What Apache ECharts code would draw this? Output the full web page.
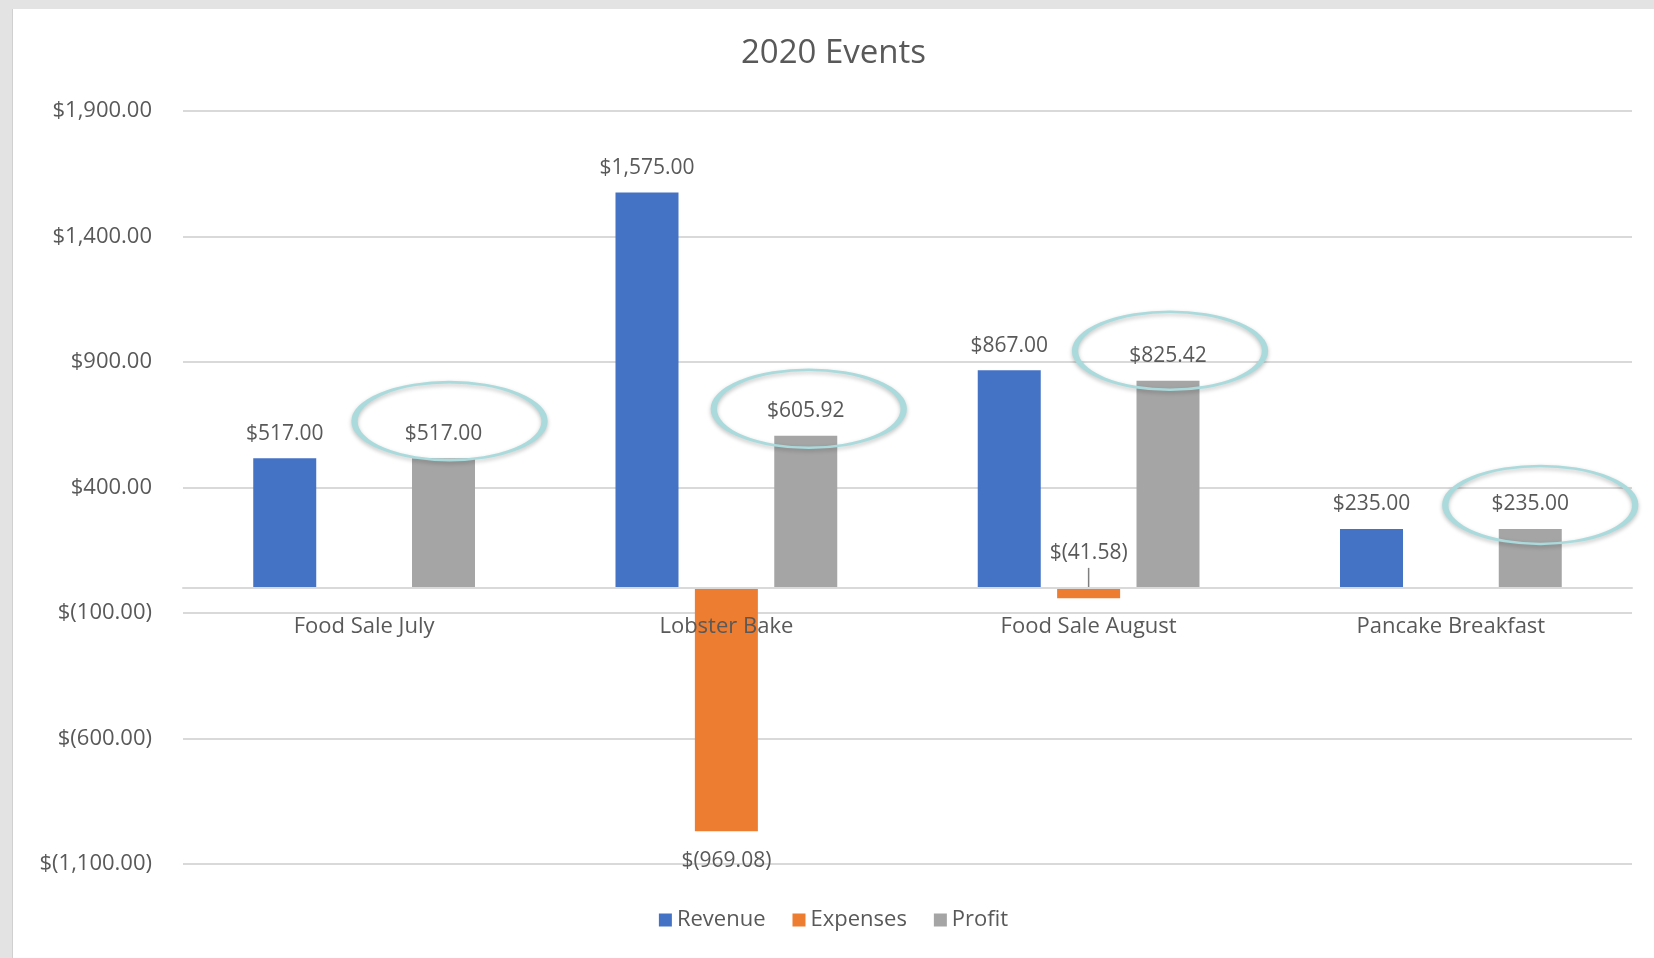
<!DOCTYPE html>
<html>
<head>
<meta charset="utf-8">
<script src="https://cdn.jsdelivr.net/npm/echarts@6/dist/echarts.min.js"></script>
<style>
  html, body { margin: 0; padding: 0; background: #e3e3e3; width: 1654px; height: 958px; overflow: hidden; }
  #frame { position: absolute; left: 12px; top: 9px; width: 1642px; height: 949px; background: #ffffff; border-left: 1px solid #d0d0d0; box-sizing: border-box; }
  #chart { width: 100%; height: 100%; }
</style>
</head>
<body>
<div id="frame"><div id="chart"></div></div>
<script>
const categories = ['Food Sale July', 'Lobster Bake', 'Food Sale August', 'Pancake Breakfast'];
const revenue = [517.00, 1575.00, 867.00, 235.00];
const expenses = [null, -969.08, -41.58, null];
const profit = [517.00, 605.92, 825.42, 235.00];
const yTicks = { min: -1100, max: 1900, step: 500 };

const FONT = '"Open Sans", Lato, sans-serif';
const TXT = '#595959';
const GRID = { left: 170, right: 22, top: 102, bottom: 94 };
const H = 949;

function money(v) {
  const a = Math.abs(v).toFixed(2).replace(/\B(?=(\d{3})+(?!\d))/g, ',');
  return v < 0 ? '$(' + a + ')' : '$' + a;
}

const plotH = H - GRID.top - GRID.bottom;
const zeroOffset = -plotH * (0 - yTicks.min) / (yTicks.max - yTicks.min);

const ellipse = 'path://M0,50a50,50 0 1,0 100,0a50,50 0 1,0 -100,0z';
const ellipseShift = [[6, -37], [3, -27], [2, -30], [10, -24]];

const chart = echarts.init(document.getElementById('chart'));
chart.setOption({
  animation: false,
  title: {
    text: '2020 Events', left: 'center', top: 23,
    textStyle: { fontFamily: FONT, fontSize: 33, fontWeight: 'normal', color: TXT }
  },
  legend: {
    bottom: 22, left: 'center', itemWidth: 13, itemHeight: 13, itemGap: 27,
    icon: 'rect',
    textStyle: { fontFamily: FONT, fontSize: 22, color: TXT }
  },
  grid: { left: GRID.left, right: GRID.right, top: GRID.top, bottom: GRID.bottom, containLabel: false },
  xAxis: {
    type: 'category', data: categories, position: 'bottom', offset: zeroOffset, z: 5,
    axisLine: { onZero: false, lineStyle: { color: '#d9d9d9', width: 2 } },
    axisTick: { show: false },
    axisLabel: { margin: 28, fontFamily: FONT, fontSize: 22, color: TXT }
  },
  yAxis: {
    type: 'value', min: yTicks.min, max: yTicks.max, interval: yTicks.step,
    axisLine: { show: false }, axisTick: { show: false },
    splitLine: { lineStyle: { color: '#d9d9d9', width: 2 } },
    axisLabel: { margin: 31, fontFamily: FONT, fontSize: 22, color: TXT, formatter: money }
  },
  series: [
    {
      name: 'Revenue', type: 'bar', data: revenue, barWidth: 63, barGap: '26%',
      itemStyle: { color: '#4472c4' },
      label: { show: true, position: 'top', distance: 14, fontFamily: FONT, fontSize: 21, color: TXT, formatter: p => money(p.value) }
    },
    {
      name: 'Expenses', type: 'bar', barWidth: 63,
      data: expenses.map((v, i) => ({
        value: v,
        label: i === 2 ? { position: 'top', distance: 24 } : { position: 'bottom', distance: 19 }
      })),
      itemStyle: { color: '#ed7d31' },
      label: { show: true, fontFamily: FONT, fontSize: 21, color: TXT, formatter: p => p.value == null ? '' : money(p.value) }
    },
    {
      name: 'Profit', type: 'bar', data: profit, barWidth: 63,
      itemStyle: { color: '#a5a5a5' },
      label: { show: true, position: 'top', distance: 14, fontFamily: FONT, fontSize: 21, color: TXT, formatter: p => money(p.value) },
      markPoint: {
        symbol: ellipse, symbolSize: [190, 78],
        silent: true,
        itemStyle: { color: 'rgba(0,0,0,0)', borderColor: '#aadadc', borderWidth: 4, shadowColor: 'rgba(0,0,0,0.25)', shadowBlur: 4, shadowOffsetY: 2 },
        label: { show: false },
        data: profit.map((v, i) => ({ coord: [i, v], symbolOffset: ellipseShift[i] }))
      }
    }
  ],
  graphic: []
});

// leader line for the small expense label
(function () {
  const idx = 2;
  const p0 = chart.convertToPixel({ seriesIndex: 1 }, [idx, 0]);
  const p1 = chart.convertToPixel({ seriesIndex: 1 }, [idx, expenses[idx]]);
  chart.setOption({
    graphic: [{
      type: 'line', silent: true,
      shape: { x1: p0[0], y1: p0[1] - 20, x2: p0[0], y2: (p0[1] + p1[1]) / 2 + 3 },
      style: { stroke: '#7f7f7f', lineWidth: 1.5 }
    }]
  });
})();
</script>
</body>
</html>
